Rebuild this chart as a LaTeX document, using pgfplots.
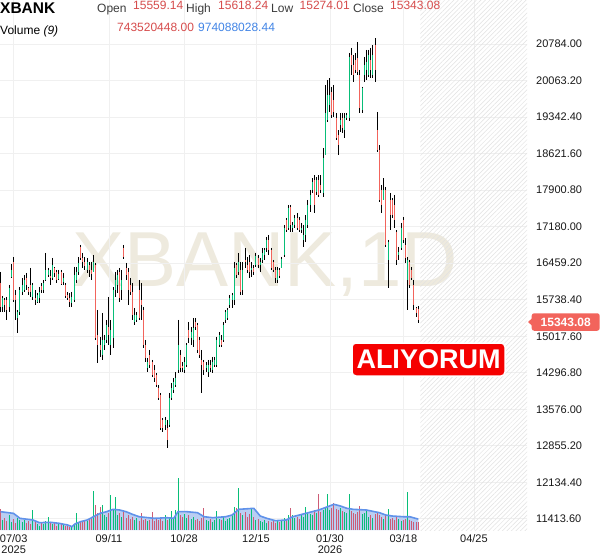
\documentclass[border=0pt]{standalone}
\usepackage{fontspec}
\setmainfont{Liberation Sans}
\usepackage{pgfplots}
\pgfplotsset{compat=1.18}
\usepackage{pgfplotstable}
\usetikzlibrary{patterns.meta}

\definecolor{upc}{RGB}{8,190,120}
\definecolor{dnc}{RGB}{242,100,92}
\definecolor{vdn}{RGB}{205,92,118}
\definecolor{gridc}{RGB}{240,240,240}
\definecolor{hatchc}{RGB}{226,226,226}
\definecolor{tickc}{RGB}{25,25,25}
\definecolor{hdrgray}{RGB}{60,60,60}
\definecolor{valred}{RGB}{214,76,76}
\definecolor{valblue}{RGB}{66,133,230}
\definecolor{mafill}{RGB}{186,206,242}
\definecolor{maline}{RGB}{96,146,234}
\definecolor{wmfill}{RGB}{238,234,222}
\definecolor{buyred}{RGB}{245,0,0}
\definecolor{pricered}{RGB}{242,100,92}

% daily candles: index, open, high, low, close, volume (millions)
\pgfplotstableread{
i o h l c v
0 16069 16287 15498 15596 1880
1 15596 15813 15498 15773 900
2 15734 15773 15498 15635 1100
3 15734 15793 15339 15537 800
4 15596 16029 15498 15970 1300
5 16188 16444 16168 16326 700
6 16484 16582 15695 15734 1000
7 15832 15931 15339 15734 600
8 15379 15537 15083 15498 1100
9 15498 15990 15438 15931 900
10 15892 16168 15832 16029 700
11 15931 16227 15892 16128 900
12 16168 16267 15931 16029 600
13 15970 15990 15832 15892 800
14 16029 16365 15793 15892 500
15 15793 16069 15734 16029 1790
16 15773 15931 15635 15734 700
17 15695 15872 15675 15832 500
18 15773 15990 15675 15892 400
19 16010 16069 15872 15931 600
20 15931 16128 15872 16069 500
21 16128 16661 16108 16326 800
22 16227 16365 16188 16326 1160
23 16208 16326 16029 16168 600
24 16168 16562 16128 16424 500
25 16365 16385 16188 16267 700
26 16287 16326 16069 16128 400
27 16148 16326 16128 16247 500
28 16287 16326 16029 16049 600
29 16089 16267 16029 16168 450
30 16029 16069 15773 15813 400
31 15832 15892 15734 15773 350
32 15773 15872 15596 15695 300
33 15675 15892 15596 15793 250
34 15734 16385 15695 16227 500
35 16128 16385 16069 16287 1520
36 16287 16582 16227 16464 600
37 16780 16819 16523 16562 800
38 16562 16661 16365 16484 700
39 16484 16582 16326 16405 900
40 16326 16562 16267 16484 800
41 16424 16484 16188 16326 1000
42 16326 16484 16128 16247 1100
43 16287 16621 16287 16484 3490
44 16424 16464 14945 14984 2240
45 15043 15537 14491 14846 1500
46 14846 15004 14610 14748 2060
47 14649 15478 14550 14945 2240
48 14846 15043 14748 14945 1300
49 14945 15339 14886 15240 1200
50 15201 15793 14846 15043 1500
51 14846 15339 14649 15142 3130
52 14984 15990 14787 15931 1800
53 15931 16287 15793 16128 2950
54 16029 16326 15872 16227 1300
55 16287 16365 15695 15773 1500
56 15931 16326 15734 16128 1200
57 16760 16819 16542 16582 1790
58 16365 16464 16128 16227 1100
59 16287 16365 15635 15931 1300
60 16029 16168 15832 15892 1000
61 15892 16069 15339 15438 1200
62 15300 15576 15240 15438 900
63 15339 15498 15300 15438 1100
64 15931 16128 15339 15379 800
65 15734 16069 15339 15635 1550
66 15537 15596 14787 14846 900
67 14846 14945 14511 14590 1000
68 14392 14590 14314 14511 800
69 14649 14748 14392 14451 900
70 14511 14550 14215 14254 1580
71 14353 14451 14117 14195 800
72 14254 14294 14018 14057 1000
73 13998 14057 13761 13800 900
74 13859 13899 13169 13209 1100
75 13367 13406 13130 13209 800
76 13268 13426 13169 13367 1340
77 13209 13367 12814 12972 900
78 13268 13899 13229 13800 1200
79 13800 14097 13761 13998 1730
80 13958 14195 13899 14117 1000
81 14057 14314 14018 14195 1790
82 14353 15339 14294 14846 4630
83 14649 14748 14314 14392 1300
84 14432 14511 14314 14392 1200
85 14353 14610 14294 14511 1400
86 14451 14886 14412 14846 1100
87 15142 15300 14886 14984 1300
88 14984 15201 14846 15103 1000
89 14945 15379 14807 15181 1200
90 15300 15379 15142 15201 900
91 15240 15280 14689 14748 1000
92 14945 15004 14590 14649 800
93 14550 14748 13899 14451 1100
94 14511 14550 14254 14353 1970
95 14392 14511 14314 14451 900
96 14314 14550 14215 14451 800
97 14451 14550 14314 14392 1000
98 14353 14610 14294 14511 700
99 14451 14610 14412 14550 900
100 14451 15004 14412 14945 1700
101 14846 15103 14807 15043 1000
102 14945 15043 14807 14846 900
103 14945 15300 14906 15240 1200
104 15339 15537 15280 15498 800
105 15379 15576 15339 15537 1000
106 15635 15832 15576 15773 1100
107 15734 15872 15576 15832 1300
108 15734 16484 15635 16365 2060
109 16424 16464 16168 16227 2000
110 16287 16661 16227 16484 3760
111 16326 16484 15832 15892 1500
112 15931 16484 15832 16326 1300
113 16523 16760 16365 16484 1600
114 16424 16582 16267 16326 1200
115 16484 16621 16168 16287 1400
116 16326 16484 16188 16365 1970
117 16365 16424 16227 16287 1200
118 16424 16661 16385 16602 900
119 16562 16621 16365 16424 1000
120 16424 16562 16287 16484 800
121 16523 16760 16464 16661 700
122 16621 16760 16523 16720 900
123 16760 16977 16681 16918 600
124 16918 17016 16621 16720 800
125 16720 16760 16326 16365 700
126 16484 16523 16287 16326 900
127 16326 16385 16069 16168 600
128 16128 16385 16069 16326 800
129 16326 16365 16168 16208 700
130 16365 16582 16365 16542 900
131 16621 17213 16582 17154 1100
132 17312 17351 17076 17115 1000
133 17154 17608 17115 17549 1300
134 17569 17608 17076 17213 1970
135 17154 17273 17076 17213 1340
136 17213 17410 17154 17351 1100
137 17351 17450 17115 17154 1200
138 17312 17371 17076 17115 1000
139 17115 17253 17056 17154 1300
140 16918 17213 16780 17016 1200
141 17016 17410 16879 17312 2060
142 17213 17707 17154 17608 1500
143 17608 17904 17470 17805 1400
144 17904 18140 17845 18062 1300
145 18101 18199 17450 17608 1790
146 17865 18160 17805 18101 1500
147 18101 18199 17766 17805 3200
148 18002 18199 17845 17904 1600
149 17845 18732 17766 18535 1800
150 18594 19975 18594 19423 2000
151 19285 20074 19246 19778 3200
152 19580 20113 19443 19778 1800
153 19838 19936 19324 19383 2000
154 19679 19975 19344 19443 2420
155 19324 19423 18890 18929 1900
156 18988 19087 18594 18791 1800
157 19186 19423 19048 19285 2000
158 19324 19423 19028 19127 1700
159 19087 19423 18929 19324 1600
160 19324 19423 19285 19383 1500
161 19324 20607 19265 20528 3220
162 20567 20705 20172 20369 1700
163 20369 20567 20035 20172 1500
164 20468 20607 20212 20271 1400
165 20508 20824 20172 20232 1600
166 20172 20271 19423 19521 2150
167 19482 19936 19423 19916 1400
168 20172 20528 20035 20369 1500
169 20271 20666 20074 20429 1790
170 20172 20666 20133 20567 1200
171 20468 20705 20113 20271 1300
172 20172 20764 20113 20567 1100
173 20764 20902 20035 20271 1400
174 19087 19443 18654 18693 1600
175 18693 18791 17668 17707 1300
176 17904 18002 17450 17608 1200
177 17707 18140 17707 17904 1000
178 17904 17963 16780 16819 1300
179 16523 16918 15970 16879 1850
180 17707 17845 17115 17410 1000
181 17707 17746 17351 17410 1100
182 17608 17805 17154 17312 900
183 17076 17115 16424 16523 1200
184 16621 16780 16523 16681 1000
185 16760 17253 16720 17154 800
186 17312 17371 16859 16918 900
187 16819 16957 16464 16562 1000
188 16128 16582 15537 16523 3370
189 16484 16523 15970 16029 900
190 16326 16385 16128 16168 800
191 16029 16128 15537 15635 700
192 15576 15596 15399 15478 750
193 15559.14 15618.24 15274.01 15343.08 743.52
}\candles

\begin{document}
\begin{tikzpicture}
\fill[white] (0pt,0pt) rectangle (600pt,558pt);

% watermark
\begin{scope}[x=1pt,y=1pt]
\node[anchor=base, inner sep=0pt, font=\fontsize{78}{78}\selectfont, text=wmfill] at (265,272) {XBANK,1D};
\end{scope}

\begin{axis}[
  at={(0pt,28pt)}, anchor=south west,
  scale only axis, width=527pt, height=530pt,
  xmin=-0.23, xmax=243.2, ymin=11195, ymax=21652,
  axis line style={draw=none}, tick style={draw=none},
  grid=major, grid style={draw=gridc, line width=0.9pt},
  ytick={11413.6,12134.4,12855.2,13576.0,14296.8,15017.6,15738.4,16459.2,17180.0,17900.8,18621.6,19342.4,20063.2,20784.0},
  yticklabels={11413.60,12134.40,12855.20,13576.00,14296.80,15017.60,15738.40,16459.20,17180.00,17900.80,18621.60,19342.40,20063.20,20784.00},
  yticklabel pos=right,
  yticklabel style={font=\fontsize{11}{13}\selectfont, text=tickc, anchor=west, inner sep=0pt, xshift=9pt},
  xtick={6.1,50.1,84.8,118.0,152.2,186.1,218.7},
  xticklabels={{07/03\\2025},{09/11},{10/28},{12/15},{01/30\\2026},{03/18},{04/25}},
  xticklabel style={font=\fontsize{11}{11}\selectfont, text=tickc, align=center, anchor=north, inner sep=0pt, yshift=-4.5pt},
]
  % future area
  \fill[pattern={Lines[angle=45,distance=3.2pt,line width=0.5pt]}, pattern color=hatchc]
    (axis cs:193.9,11195) rectangle (axis cs:243.2,21652);
  % wicks
  \addplot[draw=none, mark=none, forget plot,
    error bars/.cd, y dir=minus, y explicit, error mark=none,
    error bar style={draw=black, line width=1pt}]
    table[x=i, y=h, y error expr=\thisrow{h}-\thisrow{l}] {\candles};
  % rising bodies
  \addplot[draw=none, mark=none, forget plot,
    restrict expr to domain={\thisrow{c}-\thisrow{o}}{0:100000},
    error bars/.cd, y dir=minus, y explicit, error mark=none,
    error bar style={draw=upc, line width=1pt}]
    table[x=i, y=c, y error expr=\thisrow{c}-\thisrow{o}] {\candles};
  % falling bodies
  \addplot[draw=none, mark=none, forget plot,
    restrict expr to domain={\thisrow{o}-\thisrow{c}}{0.001:100000},
    error bars/.cd, y dir=minus, y explicit, error mark=none,
    error bar style={draw=dnc, line width=1pt}]
    table[x=i, y=o, y error expr=\thisrow{o}-\thisrow{c}] {\candles};
\end{axis}

% volume pane
\begin{axis}[
  at={(0pt,28pt)}, anchor=south west,
  scale only axis, width=527pt, height=530pt,
  xmin=-0.23, xmax=243.2, ymin=0, ymax=47435,
  hide axis,
]
  \addplot[fill=mafill, draw=none, forget plot] coordinates {
    (0,1640)(6,1490)(9,1045)(15,895)(18,655)(23,690)(27,600)(31,450)(33,300)
    (34.4,540)(37,745)(40,895)(43,1190)(46,1490)(49,1640)(52,1850)(55,1790)
    (58,1640)(61,1400)(64,1190)(71,1045)(77,1100)(80,1045)(82,1640)(86,1640)
    (91,1550)(94,1190)(98,1100)(104,1190)(107,1340)(110,1850)(117,1940)
    (120,1250)(123,1045)(127,835)(132,895)(135,1190)(138,1340)(144,1640)
    (147,1790)(152,2150)(154,2300)(157,2150)(160,1940)(163,1850)(169,1790)
    (175,1550)(178,1340)(181,1250)(186,1190)(189,1190)(193,974)} \closedcycle;
  \addplot[ycomb, draw=upc, line width=1pt, mark=none, forget plot,
    restrict expr to domain={\thisrow{c}-\thisrow{o}}{0:100000}]
    table[x=i, y=v] {\candles};
  \addplot[ycomb, draw=vdn, line width=1pt, mark=none, forget plot,
    restrict expr to domain={\thisrow{o}-\thisrow{c}}{0.001:100000}]
    table[x=i, y=v] {\candles};
  \addplot[draw=maline, line width=1.6pt, mark=none, forget plot] coordinates {
    (0,1640)(6,1490)(9,1045)(15,895)(18,655)(23,690)(27,600)(31,450)(33,300)
    (34.4,540)(37,745)(40,895)(43,1190)(46,1490)(49,1640)(52,1850)(55,1790)
    (58,1640)(61,1400)(64,1190)(71,1045)(77,1100)(80,1045)(82,1640)(86,1640)
    (91,1550)(94,1190)(98,1100)(104,1190)(107,1340)(110,1850)(117,1940)
    (120,1250)(123,1045)(127,835)(132,895)(135,1190)(138,1340)(144,1640)
    (147,1790)(152,2150)(154,2300)(157,2150)(160,1940)(163,1850)(169,1790)
    (175,1550)(178,1340)(181,1250)(186,1190)(189,1190)(193,974)};
\end{axis}

\begin{scope}[x=1pt,y=1pt]
% header
\begin{scope}[every node/.style={inner sep=0pt, anchor=base west, font=\fontsize{12}{14}\selectfont}]
  \node[font=\bfseries\fontsize{15.5}{16}\selectfont, text=black] at (0,544.5) {XBANK};
  \node[text=hdrgray] at (97,545.5) {Open};
  \node[text=valred] at (133,548) {15559.14};
  \node[text=hdrgray] at (186,545.5) {High};
  \node[text=valred] at (218,548) {15618.24};
  \node[text=hdrgray] at (271,545.5) {Low};
  \node[text=valred] at (299.5,548) {15274.01};
  \node[text=hdrgray] at (353,545.5) {Close};
  \node[text=valred] at (390,548) {15343.08};
  \node[text=black] at (0,523.7) {Volume \textit{(9)}};
  \node[text=valred] at (117,526.3) {743520448.00};
  \node[text=valblue] at (198,526.3) {974088028.44};
\end{scope}

% last price tag
\fill[pricered] (528,236) -- (533,240.5) -- (533,231.5) -- cycle;
\node[fill=pricered, text=white, font=\bfseries\fontsize{12}{12}\selectfont,
  rounded corners=2.5pt, minimum width=68pt, minimum height=17.5pt,
  inner sep=0pt, anchor=west] at (531.5,236) {15343.08};

% signal box
\node[fill=buyred, draw=white, line width=1.5pt, rounded corners=4pt, text=white,
  font=\bfseries\fontsize{27}{27}\selectfont, minimum width=153pt,
  minimum height=33pt, inner sep=0pt] at (428.5,198.5) {ALIYORUM};

\pgfresetboundingbox
\path[use as bounding box] (0,0) rectangle (600,558);
\end{scope}
\end{tikzpicture}
\end{document}
